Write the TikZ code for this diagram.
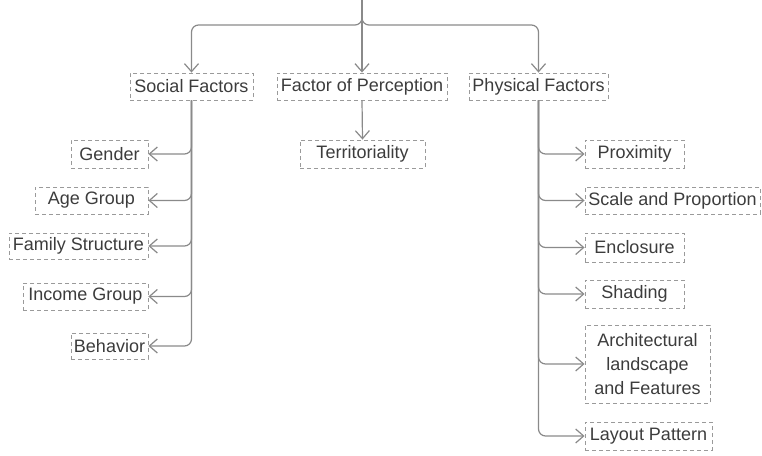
\documentclass[tikz,border=0pt]{standalone}
\usepackage{fontspec}
\setmainfont{Liberation Sans}
\usetikzlibrary{arrows.meta}
\definecolor{txt}{HTML}{3C3C3C}
\definecolor{boxc}{HTML}{9A9A9A}
\definecolor{linec}{HTML}{8A8A8A}
\begin{document}
\begin{tikzpicture}[x=1pt,y=-1pt,
  fbox/.style={draw=boxc, dashed, dash pattern=on 4pt off 3pt, line width=0.9pt, text=txt,
     font=\fontsize{18}{20}\selectfont, inner sep=0pt, anchor=center},
  conn/.style={draw=linec, line width=1.2pt, rounded corners=7pt,
     -{Straight Barb[length=8pt,width=14pt,line width=1.2pt]}}]
\useasboundingbox (0,0) rectangle (762,455);
% level 1
\node[fbox, minimum width=123pt, minimum height=27pt] (soc) at (191.5,86.5) {Social Factors};
\node[fbox, minimum width=170pt, minimum height=27pt] (fop) at (362,86.5) {Factor of Perception};
\node[fbox, minimum width=139pt, minimum height=27pt] (phys) at (538.5,86.5) {Physical Factors};
\coordinate (top) at (362,0);
% social children (right edge at 148)
\node[fbox, minimum width=77pt, minimum height=28pt] (gen) at (109.5,154) {Gender};
\node[fbox, minimum width=113pt, minimum height=27pt] (age) at (91.5,200.5) {Age Group};
\node[fbox, minimum width=139pt, minimum height=26pt] (fam) at (78.5,246) {Family Structure};
\node[fbox, minimum width=125pt, minimum height=27pt] (inc) at (85.5,296.5) {Income Group};
\node[fbox, minimum width=77pt, minimum height=26pt] (beh) at (109.5,346) {Behavior};
% perception child
\node[fbox, minimum width=125pt, minimum height=28pt] (ter) at (362.5,154) {Territoriality};
% physical children (left edge at 585)
\node[fbox, minimum width=99pt, minimum height=28pt] (prox) at (634.5,154) {Proximity};
\node[fbox, minimum width=175pt, minimum height=27pt] (scale) at (672.5,200.5) {Scale and Proportion};
\node[fbox, minimum width=99pt, minimum height=29pt] (encl) at (634.5,247.5) {Enclosure};
\node[fbox, minimum width=99pt, minimum height=28pt] (shad) at (634.5,294) {Shading};
\node[fbox, minimum width=125pt, minimum height=78pt, align=center, font=\fontsize{18}{24}\selectfont] (arch) at (647.5,364) {Architectural\\landscape\\and Features};
\node[fbox, minimum width=127pt, minimum height=28pt] (lay) at (648.5,436) {Layout Pattern};
% top connectors
\draw[conn] (top) -- (362,25) -| (soc.north);
\draw[conn] (top) -- (362,25) -| (phys.north);
\draw[conn] (top) -- (fop.north);
\draw[conn] (fop.south) -- (ter.north);
% social
\foreach \n in {gen,age,fam,inc,beh}{\draw[conn] (soc.south) |- (\n.east);}
% physical
\foreach \n in {prox,scale,encl,shad,arch,lay}{\draw[conn] (phys.south) |- (\n.west);}
\end{tikzpicture}
\end{document}
